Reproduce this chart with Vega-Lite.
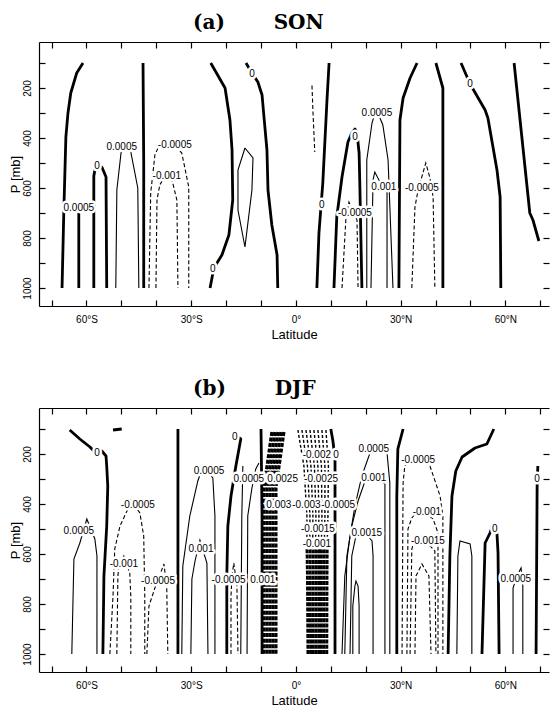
{
"$schema":"https://vega.github.io/schema/vega-lite/v6.json",
"background":"white",
"padding":{"left":9,"top":13,"right":0,"bottom":0},
"spacing":38,
"config":{"view":{"stroke":null},"font":"Liberation Sans",
"axis":{"domainColor":"black","tickColor":"black","domainWidth":1.2,"tickWidth":1.2,"labelColor":"black","titleColor":"black","labelFont":"Liberation Sans","titleFont":"Liberation Sans","labelFontSize":10,"titleFontSize":13,"titleFontWeight":"normal","grid":false,"labelOverlap":false,"labelFlush":false,"labelBound":false}},
"datasets":{
"lines":[
{"g":"a","id":"a1","k":"z","o":0,"lat":-61.0,"p":100},{"g":"a","id":"a1","k":"z","o":1,"lat":-62.8,"p":140},{"g":"a","id":"a1","k":"z","o":2,"lat":-64.5,"p":220},{"g":"a","id":"a1","k":"z","o":3,"lat":-65.3,"p":300},{"g":"a","id":"a1","k":"z","o":4,"lat":-65.9,"p":396},{"g":"a","id":"a1","k":"z","o":5,"lat":-66.5,"p":700},{"g":"a","id":"a1","k":"z","o":6,"lat":-67.0,"p":1000},
{"g":"a","id":"a2","k":"z","o":0,"lat":-62.2,"p":1000},{"g":"a","id":"a2","k":"z","o":1,"lat":-62.2,"p":690},
{"g":"a","id":"a3","k":"z","o":0,"lat":-57.9,"p":1000},{"g":"a","id":"a3","k":"z","o":1,"lat":-57.9,"p":552},{"g":"a","id":"a3","k":"z","o":2,"lat":-57.3,"p":508},{"g":"a","id":"a3","k":"z","o":3,"lat":-55.6,"p":516},{"g":"a","id":"a3","k":"z","o":4,"lat":-54.4,"p":556},{"g":"a","id":"a3","k":"z","o":5,"lat":-54.2,"p":1000},
{"g":"a","id":"a4","k":"p","o":0,"lat":-51.6,"p":1000},{"g":"a","id":"a4","k":"p","o":1,"lat":-51.3,"p":608},{"g":"a","id":"a4","k":"p","o":2,"lat":-50.1,"p":460},{"g":"a","id":"a4","k":"p","o":3,"lat":-49.0,"p":420},{"g":"a","id":"a4","k":"p","o":4,"lat":-47.3,"p":456},{"g":"a","id":"a4","k":"p","o":5,"lat":-45.3,"p":600},{"g":"a","id":"a4","k":"p","o":6,"lat":-45.0,"p":1000},
{"g":"a","id":"a5","k":"z","o":0,"lat":-43.8,"p":100},{"g":"a","id":"a5","k":"z","o":1,"lat":-43.6,"p":500},{"g":"a","id":"a5","k":"z","o":2,"lat":-43.6,"p":1000},
{"g":"a","id":"a6","k":"n","o":0,"lat":-42.1,"p":1000},{"g":"a","id":"a6","k":"n","o":1,"lat":-41.6,"p":620},{"g":"a","id":"a6","k":"n","o":2,"lat":-40.4,"p":468},{"g":"a","id":"a6","k":"n","o":3,"lat":-39.5,"p":440},{"g":"a","id":"a6","k":"n","o":4,"lat":-36.1,"p":412},{"g":"a","id":"a6","k":"n","o":5,"lat":-32.7,"p":460},{"g":"a","id":"a6","k":"n","o":6,"lat":-30.7,"p":596},{"g":"a","id":"a6","k":"n","o":7,"lat":-30.7,"p":1000},
{"g":"a","id":"a7","k":"n","o":0,"lat":-40.1,"p":1000},{"g":"a","id":"a7","k":"n","o":1,"lat":-39.8,"p":648},{"g":"a","id":"a7","k":"n","o":2,"lat":-39.0,"p":588},{"g":"a","id":"a7","k":"n","o":3,"lat":-37.0,"p":540},{"g":"a","id":"a7","k":"n","o":4,"lat":-35.5,"p":568},{"g":"a","id":"a7","k":"n","o":5,"lat":-34.1,"p":648},{"g":"a","id":"a7","k":"n","o":6,"lat":-33.8,"p":1000},
{"g":"a","id":"a8","k":"z","o":0,"lat":-24.4,"p":100},{"g":"a","id":"a8","k":"z","o":1,"lat":-20.3,"p":200},{"g":"a","id":"a8","k":"z","o":2,"lat":-18.9,"p":328},{"g":"a","id":"a8","k":"z","o":3,"lat":-18.3,"p":448},{"g":"a","id":"a8","k":"z","o":4,"lat":-18.1,"p":648},{"g":"a","id":"a8","k":"z","o":5,"lat":-19.2,"p":788},{"g":"a","id":"a8","k":"z","o":6,"lat":-21.2,"p":868},{"g":"a","id":"a8","k":"z","o":7,"lat":-23.5,"p":920},{"g":"a","id":"a8","k":"z","o":8,"lat":-24.6,"p":1000},
{"g":"a","id":"a9","k":"p","o":0,"lat":-14.6,"p":440},{"g":"a","id":"a9","k":"p","o":1,"lat":-12.3,"p":480},{"g":"a","id":"a9","k":"p","o":2,"lat":-12.6,"p":608},{"g":"a","id":"a9","k":"p","o":3,"lat":-14.6,"p":836},{"g":"a","id":"a9","k":"p","o":4,"lat":-16.6,"p":688},{"g":"a","id":"a9","k":"p","o":5,"lat":-16.6,"p":528},{"g":"a","id":"a9","k":"p","o":6,"lat":-14.6,"p":440},
{"g":"a","id":"a10","k":"z","o":0,"lat":-14.3,"p":100},{"g":"a","id":"a10","k":"z","o":1,"lat":-12.6,"p":140},{"g":"a","id":"a10","k":"z","o":2,"lat":-10.9,"p":176},{"g":"a","id":"a10","k":"z","o":3,"lat":-9.7,"p":228},{"g":"a","id":"a10","k":"z","o":4,"lat":-9.2,"p":308},{"g":"a","id":"a10","k":"z","o":5,"lat":-8.3,"p":448},{"g":"a","id":"a10","k":"z","o":6,"lat":-8.0,"p":608},{"g":"a","id":"a10","k":"z","o":7,"lat":-6.9,"p":748},{"g":"a","id":"a10","k":"z","o":8,"lat":-5.4,"p":868},{"g":"a","id":"a10","k":"z","o":9,"lat":-5.2,"p":1000},
{"g":"a","id":"a11","k":"n","o":0,"lat":4.6,"p":190},{"g":"a","id":"a11","k":"n","o":1,"lat":4.9,"p":300},{"g":"a","id":"a11","k":"n","o":2,"lat":5.4,"p":456},
{"g":"a","id":"a12","k":"z","o":0,"lat":9.5,"p":100},{"g":"a","id":"a12","k":"z","o":1,"lat":8.9,"p":248},{"g":"a","id":"a12","k":"z","o":2,"lat":7.7,"p":580},{"g":"a","id":"a12","k":"z","o":3,"lat":6.6,"p":780},{"g":"a","id":"a12","k":"z","o":4,"lat":6.0,"p":1000},
{"g":"a","id":"a13","k":"z","o":0,"lat":10.9,"p":1000},{"g":"a","id":"a13","k":"z","o":1,"lat":11.7,"p":716},{"g":"a","id":"a13","k":"z","o":2,"lat":13.2,"p":556},{"g":"a","id":"a13","k":"z","o":3,"lat":14.9,"p":416},{"g":"a","id":"a13","k":"z","o":4,"lat":16.0,"p":380},{"g":"a","id":"a13","k":"z","o":5,"lat":16.9,"p":364},{"g":"a","id":"a13","k":"z","o":6,"lat":17.5,"p":380},{"g":"a","id":"a13","k":"z","o":7,"lat":18.1,"p":460},{"g":"a","id":"a13","k":"z","o":8,"lat":18.3,"p":580},{"g":"a","id":"a13","k":"z","o":9,"lat":18.9,"p":1000},
{"g":"a","id":"a14","k":"n","o":0,"lat":13.2,"p":1000},{"g":"a","id":"a14","k":"n","o":1,"lat":14.3,"p":728},{"g":"a","id":"a14","k":"n","o":2,"lat":15.2,"p":656},{"g":"a","id":"a14","k":"n","o":3,"lat":17.5,"p":728},{"g":"a","id":"a14","k":"n","o":4,"lat":17.8,"p":1000},
{"g":"a","id":"a15","k":"p","o":0,"lat":20.3,"p":1000},{"g":"a","id":"a15","k":"p","o":1,"lat":20.3,"p":488},{"g":"a","id":"a15","k":"p","o":2,"lat":21.8,"p":340},{"g":"a","id":"a15","k":"p","o":3,"lat":23.0,"p":284},{"g":"a","id":"a15","k":"p","o":4,"lat":24.9,"p":348},{"g":"a","id":"a15","k":"p","o":5,"lat":26.4,"p":488},{"g":"a","id":"a15","k":"p","o":6,"lat":27.8,"p":1000},
{"g":"a","id":"a16","k":"p","o":0,"lat":21.5,"p":1000},{"g":"a","id":"a16","k":"p","o":1,"lat":22.1,"p":568},{"g":"a","id":"a16","k":"p","o":2,"lat":22.6,"p":536},{"g":"a","id":"a16","k":"p","o":3,"lat":24.6,"p":590},{"g":"a","id":"a16","k":"p","o":4,"lat":26.1,"p":616},{"g":"a","id":"a16","k":"p","o":5,"lat":26.1,"p":1000},
{"g":"a","id":"a17","k":"z","o":0,"lat":34.7,"p":100},{"g":"a","id":"a17","k":"z","o":1,"lat":32.7,"p":160},{"g":"a","id":"a17","k":"z","o":2,"lat":30.7,"p":240},{"g":"a","id":"a17","k":"z","o":3,"lat":29.8,"p":328},{"g":"a","id":"a17","k":"z","o":4,"lat":29.5,"p":1000},
{"g":"a","id":"a18","k":"n","o":0,"lat":33.2,"p":1000},{"g":"a","id":"a18","k":"n","o":1,"lat":34.1,"p":676},{"g":"a","id":"a18","k":"n","o":2,"lat":35.0,"p":608},{"g":"a","id":"a18","k":"n","o":3,"lat":37.2,"p":500},{"g":"a","id":"a18","k":"n","o":4,"lat":38.4,"p":560},{"g":"a","id":"a18","k":"n","o":5,"lat":39.3,"p":636},{"g":"a","id":"a18","k":"n","o":6,"lat":39.8,"p":1000},
{"g":"a","id":"a19","k":"z","o":0,"lat":40.1,"p":100},{"g":"a","id":"a19","k":"z","o":1,"lat":42.1,"p":200},{"g":"a","id":"a19","k":"z","o":2,"lat":42.1,"p":1000},
{"g":"a","id":"a20","k":"z","o":0,"lat":47.3,"p":100},{"g":"a","id":"a20","k":"z","o":1,"lat":49.9,"p":184},{"g":"a","id":"a20","k":"z","o":2,"lat":54.2,"p":288},{"g":"a","id":"a20","k":"z","o":3,"lat":55.0,"p":320},{"g":"a","id":"a20","k":"z","o":4,"lat":57.6,"p":528},{"g":"a","id":"a20","k":"z","o":5,"lat":58.5,"p":636},{"g":"a","id":"a20","k":"z","o":6,"lat":58.7,"p":1000},
{"g":"a","id":"a21","k":"z","o":0,"lat":62.5,"p":100},{"g":"a","id":"a21","k":"z","o":1,"lat":67.0,"p":700},{"g":"a","id":"a21","k":"z","o":2,"lat":67.9,"p":728},{"g":"a","id":"a21","k":"z","o":3,"lat":69.6,"p":812},
{"g":"b","id":"b1","k":"z","o":0,"lat":-64.8,"p":104},{"g":"b","id":"b1","k":"z","o":1,"lat":-61.9,"p":140},{"g":"b","id":"b1","k":"z","o":2,"lat":-59.0,"p":172},{"g":"b","id":"b1","k":"z","o":3,"lat":-57.9,"p":188},{"g":"b","id":"b1","k":"z","o":4,"lat":-57.0,"p":196},{"g":"b","id":"b1","k":"z","o":5,"lat":-55.6,"p":188},{"g":"b","id":"b1","k":"z","o":6,"lat":-54.4,"p":208},{"g":"b","id":"b1","k":"z","o":7,"lat":-54.2,"p":248},{"g":"b","id":"b1","k":"z","o":8,"lat":-53.9,"p":328},{"g":"b","id":"b1","k":"z","o":9,"lat":-54.2,"p":488},{"g":"b","id":"b1","k":"z","o":10,"lat":-55.0,"p":688},{"g":"b","id":"b1","k":"z","o":11,"lat":-55.3,"p":1000},
{"g":"b","id":"b2","k":"z","o":0,"lat":-52.4,"p":104},{"g":"b","id":"b2","k":"z","o":1,"lat":-49.9,"p":100},
{"g":"b","id":"b3","k":"p","o":0,"lat":-64.2,"p":1000},{"g":"b","id":"b3","k":"p","o":1,"lat":-63.6,"p":620},{"g":"b","id":"b3","k":"p","o":2,"lat":-61.9,"p":556},{"g":"b","id":"b3","k":"p","o":3,"lat":-59.9,"p":460},{"g":"b","id":"b3","k":"p","o":4,"lat":-57.6,"p":540},{"g":"b","id":"b3","k":"p","o":5,"lat":-57.0,"p":608},{"g":"b","id":"b3","k":"p","o":6,"lat":-57.0,"p":1000},
{"g":"b","id":"b4","k":"n","o":0,"lat":-53.3,"p":1000},{"g":"b","id":"b4","k":"n","o":1,"lat":-52.4,"p":768},{"g":"b","id":"b4","k":"n","o":2,"lat":-51.9,"p":580},{"g":"b","id":"b4","k":"n","o":3,"lat":-50.4,"p":488},{"g":"b","id":"b4","k":"n","o":4,"lat":-48.4,"p":428},{"g":"b","id":"b4","k":"n","o":5,"lat":-47.3,"p":384},{"g":"b","id":"b4","k":"n","o":6,"lat":-44.7,"p":436},{"g":"b","id":"b4","k":"n","o":7,"lat":-43.6,"p":528},{"g":"b","id":"b4","k":"n","o":8,"lat":-43.3,"p":768},{"g":"b","id":"b4","k":"n","o":9,"lat":-43.3,"p":1000},
{"g":"b","id":"b5","k":"n","o":0,"lat":-51.3,"p":1000},{"g":"b","id":"b5","k":"n","o":1,"lat":-51.0,"p":688},{"g":"b","id":"b5","k":"n","o":2,"lat":-50.7,"p":648},{"g":"b","id":"b5","k":"n","o":3,"lat":-49.3,"p":608},{"g":"b","id":"b5","k":"n","o":4,"lat":-47.6,"p":676},{"g":"b","id":"b5","k":"n","o":5,"lat":-47.3,"p":768},{"g":"b","id":"b5","k":"n","o":6,"lat":-47.3,"p":1000},
{"g":"b","id":"b6","k":"n","o":0,"lat":-42.7,"p":1000},{"g":"b","id":"b6","k":"n","o":1,"lat":-42.1,"p":808},{"g":"b","id":"b6","k":"n","o":2,"lat":-40.4,"p":736},{"g":"b","id":"b6","k":"n","o":3,"lat":-37.8,"p":640},{"g":"b","id":"b6","k":"n","o":4,"lat":-37.0,"p":736},{"g":"b","id":"b6","k":"n","o":5,"lat":-36.7,"p":1000},
{"g":"b","id":"b7","k":"z","o":0,"lat":-33.8,"p":100},{"g":"b","id":"b7","k":"z","o":1,"lat":-33.8,"p":1000},
{"g":"b","id":"b8","k":"p","o":0,"lat":-32.7,"p":1000},{"g":"b","id":"b8","k":"p","o":1,"lat":-32.4,"p":648},{"g":"b","id":"b8","k":"p","o":2,"lat":-30.4,"p":448},{"g":"b","id":"b8","k":"p","o":3,"lat":-28.1,"p":308},{"g":"b","id":"b8","k":"p","o":4,"lat":-26.6,"p":248},{"g":"b","id":"b8","k":"p","o":5,"lat":-23.8,"p":296},{"g":"b","id":"b8","k":"p","o":6,"lat":-23.2,"p":448},{"g":"b","id":"b8","k":"p","o":7,"lat":-23.2,"p":1000},
{"g":"b","id":"b9","k":"p","o":0,"lat":-30.1,"p":1000},{"g":"b","id":"b9","k":"p","o":1,"lat":-29.8,"p":700},{"g":"b","id":"b9","k":"p","o":2,"lat":-28.9,"p":628},{"g":"b","id":"b9","k":"p","o":3,"lat":-27.5,"p":544},{"g":"b","id":"b9","k":"p","o":4,"lat":-25.5,"p":636},{"g":"b","id":"b9","k":"p","o":5,"lat":-25.2,"p":1000},
{"g":"b","id":"b10","k":"z","o":0,"lat":-17.8,"p":120},{"g":"b","id":"b10","k":"z","o":1,"lat":-15.8,"p":140},{"g":"b","id":"b10","k":"z","o":2,"lat":-17.2,"p":248},{"g":"b","id":"b10","k":"z","o":3,"lat":-18.6,"p":368},{"g":"b","id":"b10","k":"z","o":4,"lat":-19.5,"p":488},{"g":"b","id":"b10","k":"z","o":5,"lat":-19.8,"p":688},{"g":"b","id":"b10","k":"z","o":6,"lat":-19.8,"p":1000},
{"g":"b","id":"b11","k":"n","o":0,"lat":-18.6,"p":1000},{"g":"b","id":"b11","k":"n","o":1,"lat":-18.6,"p":768},{"g":"b","id":"b11","k":"n","o":2,"lat":-18.3,"p":688},{"g":"b","id":"b11","k":"n","o":3,"lat":-17.8,"p":636},{"g":"b","id":"b11","k":"n","o":4,"lat":-16.9,"p":728},{"g":"b","id":"b11","k":"n","o":5,"lat":-16.6,"p":1000},
{"g":"b","id":"b12","k":"p","o":0,"lat":-14.0,"p":1000},{"g":"b","id":"b12","k":"p","o":1,"lat":-13.8,"p":448},{"g":"b","id":"b12","k":"p","o":2,"lat":-12.6,"p":336},{"g":"b","id":"b12","k":"p","o":3,"lat":-11.5,"p":260},{"g":"b","id":"b12","k":"p","o":4,"lat":-10.6,"p":236},
{"g":"b","id":"b13","k":"z","o":0,"lat":-10.0,"p":100},{"g":"b","id":"b13","k":"z","o":1,"lat":-9.7,"p":448},{"g":"b","id":"b13","k":"z","o":2,"lat":-9.7,"p":1000},
{"g":"b","id":"b14","k":"p","o":0,"lat":-15.2,"p":248},{"g":"b","id":"b14","k":"p","o":1,"lat":-15.5,"p":448},{"g":"b","id":"b14","k":"p","o":2,"lat":-15.8,"p":1000},
{"g":"b","id":"bs0","k":"ls","o":0,"lat":-6.88,"p":112},{"g":"b","id":"bs0","k":"ls","o":1,"lat":-9.17,"p":336},{"g":"b","id":"bs0","k":"ls","o":2,"lat":-9.17,"p":1000},
{"g":"b","id":"bs1","k":"ls","o":0,"lat":-6.02,"p":112},{"g":"b","id":"bs1","k":"ls","o":1,"lat":-8.31,"p":336},{"g":"b","id":"bs1","k":"ls","o":2,"lat":-8.31,"p":1000},
{"g":"b","id":"bs2","k":"ls","o":0,"lat":-5.16,"p":112},{"g":"b","id":"bs2","k":"ls","o":1,"lat":-7.45,"p":336},{"g":"b","id":"bs2","k":"ls","o":2,"lat":-7.45,"p":1000},
{"g":"b","id":"bs3","k":"ls","o":0,"lat":-4.30,"p":112},{"g":"b","id":"bs3","k":"ls","o":1,"lat":-6.59,"p":336},{"g":"b","id":"bs3","k":"ls","o":2,"lat":-6.59,"p":1000},
{"g":"b","id":"bs4","k":"ls","o":0,"lat":-3.44,"p":112},{"g":"b","id":"bs4","k":"ls","o":1,"lat":-5.73,"p":336},{"g":"b","id":"bs4","k":"ls","o":2,"lat":-5.73,"p":1000},
{"g":"b","id":"bn0","k":"ln","o":0,"lat":0.57,"p":104},{"g":"b","id":"bn0","k":"ln","o":1,"lat":2.29,"p":248},{"g":"b","id":"bn0","k":"ln","o":2,"lat":3.15,"p":448},{"g":"b","id":"bn0","k":"ln","o":3,"lat":3.15,"p":560},
{"g":"b","id":"bn1","k":"ln","o":0,"lat":1.72,"p":104},{"g":"b","id":"bn1","k":"ln","o":1,"lat":3.30,"p":248},{"g":"b","id":"bn1","k":"ln","o":2,"lat":4.01,"p":448},{"g":"b","id":"bn1","k":"ln","o":3,"lat":3.98,"p":560},
{"g":"b","id":"bn2","k":"ln","o":0,"lat":2.87,"p":104},{"g":"b","id":"bn2","k":"ln","o":1,"lat":4.30,"p":248},{"g":"b","id":"bn2","k":"ln","o":2,"lat":4.87,"p":448},{"g":"b","id":"bn2","k":"ln","o":3,"lat":4.81,"p":560},
{"g":"b","id":"bn3","k":"ln","o":0,"lat":4.01,"p":104},{"g":"b","id":"bn3","k":"ln","o":1,"lat":5.30,"p":248},{"g":"b","id":"bn3","k":"ln","o":2,"lat":5.73,"p":448},{"g":"b","id":"bn3","k":"ln","o":3,"lat":5.64,"p":560},
{"g":"b","id":"bn4","k":"ln","o":0,"lat":5.16,"p":104},{"g":"b","id":"bn4","k":"ln","o":1,"lat":6.30,"p":248},{"g":"b","id":"bn4","k":"ln","o":2,"lat":6.59,"p":448},{"g":"b","id":"bn4","k":"ln","o":3,"lat":6.48,"p":560},
{"g":"b","id":"bn5","k":"ln","o":0,"lat":6.30,"p":104},{"g":"b","id":"bn5","k":"ln","o":1,"lat":7.31,"p":248},{"g":"b","id":"bn5","k":"ln","o":2,"lat":7.45,"p":448},{"g":"b","id":"bn5","k":"ln","o":3,"lat":7.31,"p":560},
{"g":"b","id":"bn6","k":"ln","o":0,"lat":7.45,"p":104},{"g":"b","id":"bn6","k":"ln","o":1,"lat":8.31,"p":248},{"g":"b","id":"bn6","k":"ln","o":2,"lat":8.31,"p":448},{"g":"b","id":"bn6","k":"ln","o":3,"lat":8.14,"p":560},
{"g":"b","id":"bn7","k":"ln","o":0,"lat":8.60,"p":104},{"g":"b","id":"bn7","k":"ln","o":1,"lat":9.31,"p":248},{"g":"b","id":"bn7","k":"ln","o":2,"lat":9.17,"p":448},{"g":"b","id":"bn7","k":"ln","o":3,"lat":8.97,"p":560},
{"g":"b","id":"bm0","k":"lnb","o":0,"lat":3.15,"p":560},{"g":"b","id":"bm0","k":"lnb","o":1,"lat":3.30,"p":688},{"g":"b","id":"bm0","k":"lnb","o":2,"lat":3.44,"p":1000},
{"g":"b","id":"bm1","k":"lnb","o":0,"lat":3.98,"p":560},{"g":"b","id":"bm1","k":"lnb","o":1,"lat":4.10,"p":688},{"g":"b","id":"bm1","k":"lnb","o":2,"lat":4.21,"p":1000},
{"g":"b","id":"bm2","k":"lnb","o":0,"lat":4.81,"p":560},{"g":"b","id":"bm2","k":"lnb","o":1,"lat":4.90,"p":688},{"g":"b","id":"bm2","k":"lnb","o":2,"lat":4.99,"p":1000},
{"g":"b","id":"bm3","k":"lnb","o":0,"lat":5.64,"p":560},{"g":"b","id":"bm3","k":"lnb","o":1,"lat":5.70,"p":688},{"g":"b","id":"bm3","k":"lnb","o":2,"lat":5.76,"p":1000},
{"g":"b","id":"bm4","k":"lnb","o":0,"lat":6.48,"p":560},{"g":"b","id":"bm4","k":"lnb","o":1,"lat":6.50,"p":688},{"g":"b","id":"bm4","k":"lnb","o":2,"lat":6.53,"p":1000},
{"g":"b","id":"bm5","k":"lnb","o":0,"lat":7.31,"p":560},{"g":"b","id":"bm5","k":"lnb","o":1,"lat":7.31,"p":688},{"g":"b","id":"bm5","k":"lnb","o":2,"lat":7.31,"p":1000},
{"g":"b","id":"bm6","k":"lnb","o":0,"lat":8.14,"p":560},{"g":"b","id":"bm6","k":"lnb","o":1,"lat":8.11,"p":688},{"g":"b","id":"bm6","k":"lnb","o":2,"lat":8.08,"p":1000},
{"g":"b","id":"bm7","k":"lnb","o":0,"lat":8.97,"p":560},{"g":"b","id":"bm7","k":"lnb","o":1,"lat":8.91,"p":688},{"g":"b","id":"bm7","k":"lnb","o":2,"lat":8.85,"p":1000},
{"g":"b","id":"b20","k":"z","o":0,"lat":10.0,"p":100},{"g":"b","id":"b20","k":"z","o":1,"lat":10.6,"p":148},{"g":"b","id":"b20","k":"z","o":2,"lat":11.2,"p":220},{"g":"b","id":"b20","k":"z","o":3,"lat":11.2,"p":448},{"g":"b","id":"b20","k":"z","o":4,"lat":11.2,"p":1000},
{"g":"b","id":"b21","k":"p","o":0,"lat":13.2,"p":1000},{"g":"b","id":"b21","k":"p","o":1,"lat":14.0,"p":688},{"g":"b","id":"b21","k":"p","o":2,"lat":15.5,"p":528},{"g":"b","id":"b21","k":"p","o":3,"lat":16.9,"p":408},{"g":"b","id":"b21","k":"p","o":4,"lat":18.9,"p":288},{"g":"b","id":"b21","k":"p","o":5,"lat":21.2,"p":196},{"g":"b","id":"b21","k":"p","o":6,"lat":23.5,"p":172},{"g":"b","id":"b21","k":"p","o":7,"lat":26.1,"p":196},{"g":"b","id":"b21","k":"p","o":8,"lat":26.9,"p":316},{"g":"b","id":"b21","k":"p","o":9,"lat":26.9,"p":1000},
{"g":"b","id":"b22","k":"p","o":0,"lat":14.0,"p":1000},{"g":"b","id":"b22","k":"p","o":1,"lat":14.6,"p":608},{"g":"b","id":"b22","k":"p","o":2,"lat":16.0,"p":488},{"g":"b","id":"b22","k":"p","o":3,"lat":17.8,"p":388},{"g":"b","id":"b22","k":"p","o":4,"lat":19.8,"p":308},{"g":"b","id":"b22","k":"p","o":5,"lat":21.8,"p":280},{"g":"b","id":"b22","k":"p","o":6,"lat":25.5,"p":320},{"g":"b","id":"b22","k":"p","o":7,"lat":25.5,"p":1000},
{"g":"b","id":"b23","k":"p","o":0,"lat":15.5,"p":1000},{"g":"b","id":"b23","k":"p","o":1,"lat":16.0,"p":608},{"g":"b","id":"b23","k":"p","o":2,"lat":17.2,"p":528},{"g":"b","id":"b23","k":"p","o":3,"lat":18.9,"p":500},{"g":"b","id":"b23","k":"p","o":4,"lat":21.8,"p":548},{"g":"b","id":"b23","k":"p","o":5,"lat":22.1,"p":608},{"g":"b","id":"b23","k":"p","o":6,"lat":22.1,"p":1000},
{"g":"b","id":"b24","k":"p","o":0,"lat":16.3,"p":1000},{"g":"b","id":"b24","k":"p","o":1,"lat":16.3,"p":808},{"g":"b","id":"b24","k":"p","o":2,"lat":16.9,"p":728},{"g":"b","id":"b24","k":"p","o":3,"lat":17.2,"p":708},{"g":"b","id":"b24","k":"p","o":4,"lat":17.8,"p":728},{"g":"b","id":"b24","k":"p","o":5,"lat":18.1,"p":808},{"g":"b","id":"b24","k":"p","o":6,"lat":18.1,"p":1000},
{"g":"b","id":"b25","k":"z","o":0,"lat":30.7,"p":100},{"g":"b","id":"b25","k":"z","o":1,"lat":29.2,"p":180},{"g":"b","id":"b25","k":"z","o":2,"lat":28.9,"p":368},{"g":"b","id":"b25","k":"z","o":3,"lat":28.9,"p":1000},
{"g":"b","id":"b26","k":"n","o":0,"lat":30.4,"p":1000},{"g":"b","id":"b26","k":"n","o":1,"lat":30.7,"p":316},{"g":"b","id":"b26","k":"n","o":2,"lat":31.2,"p":248},{"g":"b","id":"b26","k":"n","o":3,"lat":32.7,"p":216},{"g":"b","id":"b26","k":"n","o":4,"lat":35.5,"p":212},{"g":"b","id":"b26","k":"n","o":5,"lat":38.4,"p":248},{"g":"b","id":"b26","k":"n","o":6,"lat":41.3,"p":368},{"g":"b","id":"b26","k":"n","o":7,"lat":42.1,"p":448},{"g":"b","id":"b26","k":"n","o":8,"lat":42.1,"p":1000},
{"g":"b","id":"b27","k":"n","o":0,"lat":31.8,"p":1000},{"g":"b","id":"b27","k":"n","o":1,"lat":32.1,"p":500},{"g":"b","id":"b27","k":"n","o":2,"lat":33.2,"p":456},{"g":"b","id":"b27","k":"n","o":3,"lat":35.5,"p":416},{"g":"b","id":"b27","k":"n","o":4,"lat":39.3,"p":460},{"g":"b","id":"b27","k":"n","o":5,"lat":40.7,"p":516},{"g":"b","id":"b27","k":"n","o":6,"lat":40.7,"p":1000},
{"g":"b","id":"b28","k":"n","o":0,"lat":32.7,"p":1000},{"g":"b","id":"b28","k":"n","o":1,"lat":33.2,"p":580},{"g":"b","id":"b28","k":"n","o":2,"lat":34.1,"p":536},{"g":"b","id":"b28","k":"n","o":3,"lat":35.5,"p":524},{"g":"b","id":"b28","k":"n","o":4,"lat":39.8,"p":588},{"g":"b","id":"b28","k":"n","o":5,"lat":40.1,"p":1000},
{"g":"b","id":"b29","k":"n","o":0,"lat":34.1,"p":1000},{"g":"b","id":"b29","k":"n","o":1,"lat":34.4,"p":688},{"g":"b","id":"b29","k":"n","o":2,"lat":36.1,"p":640},{"g":"b","id":"b29","k":"n","o":3,"lat":38.1,"p":688},{"g":"b","id":"b29","k":"n","o":4,"lat":38.7,"p":1000},
{"g":"b","id":"b30","k":"z","o":0,"lat":56.7,"p":100},{"g":"b","id":"b30","k":"z","o":1,"lat":54.7,"p":160},{"g":"b","id":"b30","k":"z","o":2,"lat":51.3,"p":176},{"g":"b","id":"b30","k":"z","o":3,"lat":47.6,"p":212},{"g":"b","id":"b30","k":"z","o":4,"lat":45.8,"p":268},{"g":"b","id":"b30","k":"z","o":5,"lat":44.7,"p":368},{"g":"b","id":"b30","k":"z","o":6,"lat":44.1,"p":608},{"g":"b","id":"b30","k":"z","o":7,"lat":43.6,"p":1000},
{"g":"b","id":"b31","k":"p","o":0,"lat":46.1,"p":1000},{"g":"b","id":"b31","k":"p","o":1,"lat":46.4,"p":608},{"g":"b","id":"b31","k":"p","o":2,"lat":47.0,"p":548},{"g":"b","id":"b31","k":"p","o":3,"lat":49.9,"p":560},{"g":"b","id":"b31","k":"p","o":4,"lat":50.4,"p":608},{"g":"b","id":"b31","k":"p","o":5,"lat":50.4,"p":1000},
{"g":"b","id":"b32","k":"z","o":0,"lat":53.3,"p":1000},{"g":"b","id":"b32","k":"z","o":1,"lat":54.2,"p":556},{"g":"b","id":"b32","k":"z","o":2,"lat":55.6,"p":516},{"g":"b","id":"b32","k":"z","o":3,"lat":56.4,"p":484},{"g":"b","id":"b32","k":"z","o":4,"lat":57.6,"p":520},{"g":"b","id":"b32","k":"z","o":5,"lat":57.9,"p":596},{"g":"b","id":"b32","k":"z","o":6,"lat":58.2,"p":1000},
{"g":"b","id":"b33","k":"p","o":0,"lat":62.2,"p":1000},{"g":"b","id":"b33","k":"p","o":1,"lat":62.2,"p":736},{"g":"b","id":"b33","k":"p","o":2,"lat":63.3,"p":688},{"g":"b","id":"b33","k":"p","o":3,"lat":64.5,"p":656},{"g":"b","id":"b33","k":"p","o":4,"lat":65.0,"p":728},{"g":"b","id":"b33","k":"p","o":5,"lat":65.0,"p":1000},
{"g":"b","id":"b34","k":"z","o":0,"lat":69.3,"p":248},{"g":"b","id":"b34","k":"z","o":1,"lat":69.1,"p":328},{"g":"b","id":"b34","k":"z","o":2,"lat":68.8,"p":1000}
],
"labels":[
{"g":"a","t":"0.0005","lat":-62.2,"p":680},{"g":"a","t":"0","lat":-57.0,"p":512},{"g":"a","t":"0.0005","lat":-49.9,"p":436},{"g":"a","t":"-0.0005","lat":-34.7,"p":428},{"g":"a","t":"-0.001","lat":-37.0,"p":552},{"g":"a","t":"0","lat":-23.8,"p":924},{"g":"a","t":"0","lat":-12.6,"p":144},{"g":"a","t":"0","lat":7.4,"p":668},{"g":"a","t":"0","lat":16.9,"p":396},{"g":"a","t":"0.0005","lat":23.2,"p":300},{"g":"a","t":"-0.0005","lat":16.9,"p":700},{"g":"a","t":"0.001","lat":25.2,"p":596},{"g":"a","t":"-0.0005","lat":36.1,"p":600},{"g":"a","t":"0","lat":49.9,"p":184},
{"g":"b","t":"0","lat":-57.0,"p":196},{"g":"b","t":"0.0005","lat":-62.2,"p":508},{"g":"b","t":"-0.0005","lat":-45.3,"p":404},{"g":"b","t":"-0.001","lat":-49.3,"p":640},{"g":"b","t":"-0.0005","lat":-39.5,"p":708},{"g":"b","t":"0.0005","lat":-24.9,"p":268},{"g":"b","t":"0.001","lat":-27.2,"p":580},{"g":"b","t":"0","lat":-17.5,"p":132},{"g":"b","t":"-0.0005","lat":-19.3,"p":704},{"g":"b","t":"0.001","lat":-9.5,"p":704},{"g":"b","t":"0.0005","lat":-13.5,"p":300},{"g":"b","t":"0.0025","lat":-3.8,"p":300},{"g":"b","t":"0.003","lat":-4.9,"p":404},{"g":"b","t":"-0.002","lat":6.0,"p":204},{"g":"b","t":"0","lat":11.5,"p":204},{"g":"b","t":"-0.0025","lat":7.2,"p":300},{"g":"b","t":"-0.003","lat":3.0,"p":404},{"g":"b","t":"-0.0005","lat":12.1,"p":404},{"g":"b","t":"-0.0015","lat":6.3,"p":500},{"g":"b","t":"-0.001","lat":6.0,"p":558},{"g":"b","t":"0.0005","lat":22.3,"p":180},{"g":"b","t":"0.001","lat":22.3,"p":296},{"g":"b","t":"0.0015","lat":20.3,"p":516},{"g":"b","t":"-0.0005","lat":35.0,"p":224},{"g":"b","t":"-0.001","lat":37.5,"p":432},{"g":"b","t":"-0.0015","lat":37.8,"p":548},{"g":"b","t":"0","lat":57.0,"p":500},{"g":"b","t":"0.0005","lat":63.0,"p":700},{"g":"b","t":"0","lat":69.1,"p":300}
]},
"data":{"name":"lines"},
"vconcat":[
{"width":510,"height":264,
"title":{"text":"(a)\u00a0\u00a0\u00a0\u00a0\u00a0\u00a0\u00a0SON","font":"DejaVu Serif","fontSize":20,"fontWeight":"bold","color":"black","anchor":"start","frame":"group","dx":154,"offset":8},
"layer":[
{"transform":[{"filter":"datum.g=='a' && datum.k=='z'"}],"mark":{"type":"line","color":"black","strokeWidth":2.8,"strokeJoin":"round"},
"encoding":{"x":{"field":"lat","type":"quantitative","scale":{"domain":[-73.6,72.5],"nice":false,"zero":false},"axis":{"orient":"bottom","values":[-70,-60,-50,-40,-30,-20,-10,0,10,20,30,40,50,60,70],"labelExpr":"datum.value == 0 ? '0°' : (datum.value % 30 == 0 ? abs(datum.value) + '°' + (datum.value < 0 ? 'S' : 'N') : '')","title":"Latitude","tickSize":-6,"labelPadding":14,"titlePadding":4}},
"y":{"field":"p","type":"quantitative","scale":{"domain":[16,1072],"reverse":true,"nice":false,"zero":false},"axis":{"orient":"left","values":[100,200,300,400,500,600,700,800,900,1000],"format":"d","labelExpr":"datum.value % 200 == 0 ? datum.label : ''","labelAngle":-90,"labelAlign":"center","labelBaseline":"bottom","tickSize":-6,"labelPadding":12.5,"title":"P [mb]","titlePadding":0}},
"detail":{"field":"id"},"order":{"field":"o","type":"quantitative"}}},
{"transform":[{"filter":"datum.g=='a' && datum.k=='p'"}],"mark":{"type":"line","color":"black","strokeWidth":1.1},
"encoding":{"x":{"field":"lat","type":"quantitative","scale":{"domain":[-73.6,72.5],"nice":false,"zero":false},"axis":{"orient":"top","values":[-70,-60,-50,-40,-30,-20,-10,0,10,20,30,40,50,60,70],"labels":false,"title":null,"tickSize":-6}},
"y":{"field":"p","type":"quantitative","scale":{"domain":[16,1072],"reverse":true,"nice":false,"zero":false},"axis":{"orient":"right","values":[100,200,300,400,500,600,700,800,900,1000],"labels":false,"title":null,"tickSize":-6,"domain":false}},
"detail":{"field":"id"},"order":{"field":"o","type":"quantitative"}}},
{"transform":[{"filter":"datum.g=='a' && datum.k=='n'"}],"mark":{"type":"line","color":"black","strokeWidth":1.1,"strokeDash":[4,2.5]},
"encoding":{"x":{"field":"lat","type":"quantitative","axis":null},"y":{"field":"p","type":"quantitative","axis":null},"detail":{"field":"id"},"order":{"field":"o","type":"quantitative"}}},
{"data":{"name":"labels"},"transform":[{"filter":"datum.g=='a'"}],"mark":{"type":"text","font":"Liberation Sans","fontSize":10,"fill":"white","stroke":"white","strokeWidth":5,"strokeJoin":"round"},
"encoding":{"x":{"field":"lat","type":"quantitative","axis":null},"y":{"field":"p","type":"quantitative","axis":null},"text":{"field":"t"}}},
{"data":{"name":"labels"},"transform":[{"filter":"datum.g=='a'"}],"mark":{"type":"text","font":"Liberation Sans","fontSize":10,"fill":"black"},
"encoding":{"x":{"field":"lat","type":"quantitative","axis":null},"y":{"field":"p","type":"quantitative","axis":null},"text":{"field":"t"}}}
],
"resolve":{"axis":{"x":"independent","y":"independent"}}},
{"width":510,"height":264,
"title":{"text":"(b)\u00a0\u00a0\u00a0\u00a0\u00a0\u00a0\u00a0DJF","font":"DejaVu Serif","fontSize":20,"fontWeight":"bold","color":"black","anchor":"start","frame":"group","dx":154,"offset":8},
"layer":[
{"transform":[{"filter":"datum.g=='b' && datum.k=='z'"}],"mark":{"type":"line","color":"black","strokeWidth":2.8,"strokeJoin":"round"},
"encoding":{"x":{"field":"lat","type":"quantitative","scale":{"domain":[-73.6,72.5],"nice":false,"zero":false},"axis":{"orient":"bottom","values":[-70,-60,-50,-40,-30,-20,-10,0,10,20,30,40,50,60,70],"labelExpr":"datum.value == 0 ? '0°' : (datum.value % 30 == 0 ? abs(datum.value) + '°' + (datum.value < 0 ? 'S' : 'N') : '')","title":"Latitude","tickSize":-6,"labelPadding":14,"titlePadding":4}},
"y":{"field":"p","type":"quantitative","scale":{"domain":[16,1072],"reverse":true,"nice":false,"zero":false},"axis":{"orient":"left","values":[100,200,300,400,500,600,700,800,900,1000],"format":"d","labelExpr":"datum.value % 200 == 0 ? datum.label : ''","labelAngle":-90,"labelAlign":"center","labelBaseline":"bottom","tickSize":-6,"labelPadding":12.5,"title":"P [mb]","titlePadding":0}},
"detail":{"field":"id"},"order":{"field":"o","type":"quantitative"}}},
{"transform":[{"filter":"datum.g=='b' && datum.k=='p'"}],"mark":{"type":"line","color":"black","strokeWidth":1.1},
"encoding":{"x":{"field":"lat","type":"quantitative","scale":{"domain":[-73.6,72.5],"nice":false,"zero":false},"axis":{"orient":"top","values":[-70,-60,-50,-40,-30,-20,-10,0,10,20,30,40,50,60,70],"labels":false,"title":null,"tickSize":-6}},
"y":{"field":"p","type":"quantitative","scale":{"domain":[16,1072],"reverse":true,"nice":false,"zero":false},"axis":{"orient":"right","values":[100,200,300,400,500,600,700,800,900,1000],"labels":false,"title":null,"tickSize":-6,"domain":false}},
"detail":{"field":"id"},"order":{"field":"o","type":"quantitative"}}},
{"transform":[{"filter":"datum.g=='b' && datum.k=='n'"}],"mark":{"type":"line","color":"black","strokeWidth":1.1,"strokeDash":[4,2.5]},
"encoding":{"x":{"field":"lat","type":"quantitative","axis":null},"y":{"field":"p","type":"quantitative","axis":null},"detail":{"field":"id"},"order":{"field":"o","type":"quantitative"}}},
{"transform":[{"filter":"datum.g=='b' && datum.k=='ls'"}],"mark":{"type":"line","color":"black","strokeWidth":3.2,"strokeDash":[4,1.6]},
"encoding":{"x":{"field":"lat","type":"quantitative","axis":null},"y":{"field":"p","type":"quantitative","axis":null},"detail":{"field":"id"},"order":{"field":"o","type":"quantitative"}}},
{"transform":[{"filter":"datum.g=='b' && datum.k=='ln'"}],"mark":{"type":"line","color":"black","strokeWidth":1.4,"strokeDash":[3,2]},
"encoding":{"x":{"field":"lat","type":"quantitative","axis":null},"y":{"field":"p","type":"quantitative","axis":null},"detail":{"field":"id"},"order":{"field":"o","type":"quantitative"}}},
{"transform":[{"filter":"datum.g=='b' && datum.k=='lnb'"}],"mark":{"type":"line","color":"black","strokeWidth":2.9,"strokeDash":[4,1.3]},
"encoding":{"x":{"field":"lat","type":"quantitative","axis":null},"y":{"field":"p","type":"quantitative","axis":null},"detail":{"field":"id"},"order":{"field":"o","type":"quantitative"}}},
{"data":{"name":"labels"},"transform":[{"filter":"datum.g=='b'"}],"mark":{"type":"text","font":"Liberation Sans","fontSize":10,"fill":"white","stroke":"white","strokeWidth":5,"strokeJoin":"round"},
"encoding":{"x":{"field":"lat","type":"quantitative","axis":null},"y":{"field":"p","type":"quantitative","axis":null},"text":{"field":"t"}}},
{"data":{"name":"labels"},"transform":[{"filter":"datum.g=='b'"}],"mark":{"type":"text","font":"Liberation Sans","fontSize":10,"fill":"black"},
"encoding":{"x":{"field":"lat","type":"quantitative","axis":null},"y":{"field":"p","type":"quantitative","axis":null},"text":{"field":"t"}}}
],
"resolve":{"axis":{"x":"independent","y":"independent"}}}
]
}
